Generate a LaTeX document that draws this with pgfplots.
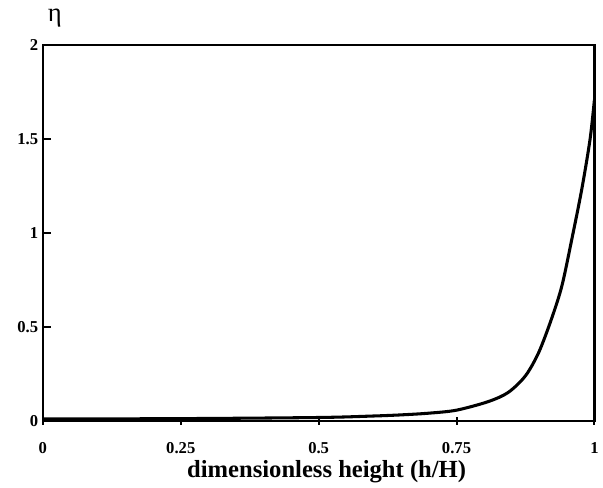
\documentclass[border=0pt]{standalone}
\usepackage{fontspec}
\setmainfont{Liberation Serif}
\usepackage{pgfplots}
\pgfplotsset{compat=1.18}

\begin{document}
\begin{tikzpicture}
\begin{axis}[
  at={(0,0)}, anchor=south west,
  scale only axis, width=414.75pt, height=282.75pt,
  xmin=0, xmax=1, ymin=0, ymax=2,
  xtick={0,0.25,0.5,0.75,1}, ytick={0,0.5,1,1.5,2},
  xticklabels={0,0.25,0.5,0.75,1},
  yticklabels={0,0.5,1,1.5,2},
  xtick pos=bottom, ytick pos=left,
  xtick align=center, ytick align=inside,
  major tick length=6pt,
  axis line style={line width=1.9pt},
  tick style={line width=1.5pt, black},
  tick label style={font=\fontsize{12.5}{14}\selectfont\bfseries},
  xticklabel style={yshift=-10pt},
  xlabel={\fontsize{18.5}{20}\selectfont\bfseries dimensionless height (h/H)},
  xlabel style={yshift=2pt, xshift=6pt},
  clip=false,
]
\addplot[line width=2.3pt, black, smooth, tension=0.5] coordinates {
  (0,0.010) (0.25,0.012) (0.5,0.018) (0.6,0.026) (0.65,0.032)
  (0.70,0.041) (0.75,0.057) (0.808,0.103) (0.844,0.152)
  (0.875,0.240) (0.899,0.364) (0.922,0.541) (0.941,0.718)
  (0.959,0.966) (0.977,1.231) (0.992,1.496) (1.0,1.708)
};
\end{axis}
\node[font=\fontsize{20}{22}\selectfont] at (9pt,303pt) {η};
\path[use as bounding box] (-32.25pt,-43.5pt) rectangle (420pt,316.5pt);
\end{tikzpicture}
\end{document}
